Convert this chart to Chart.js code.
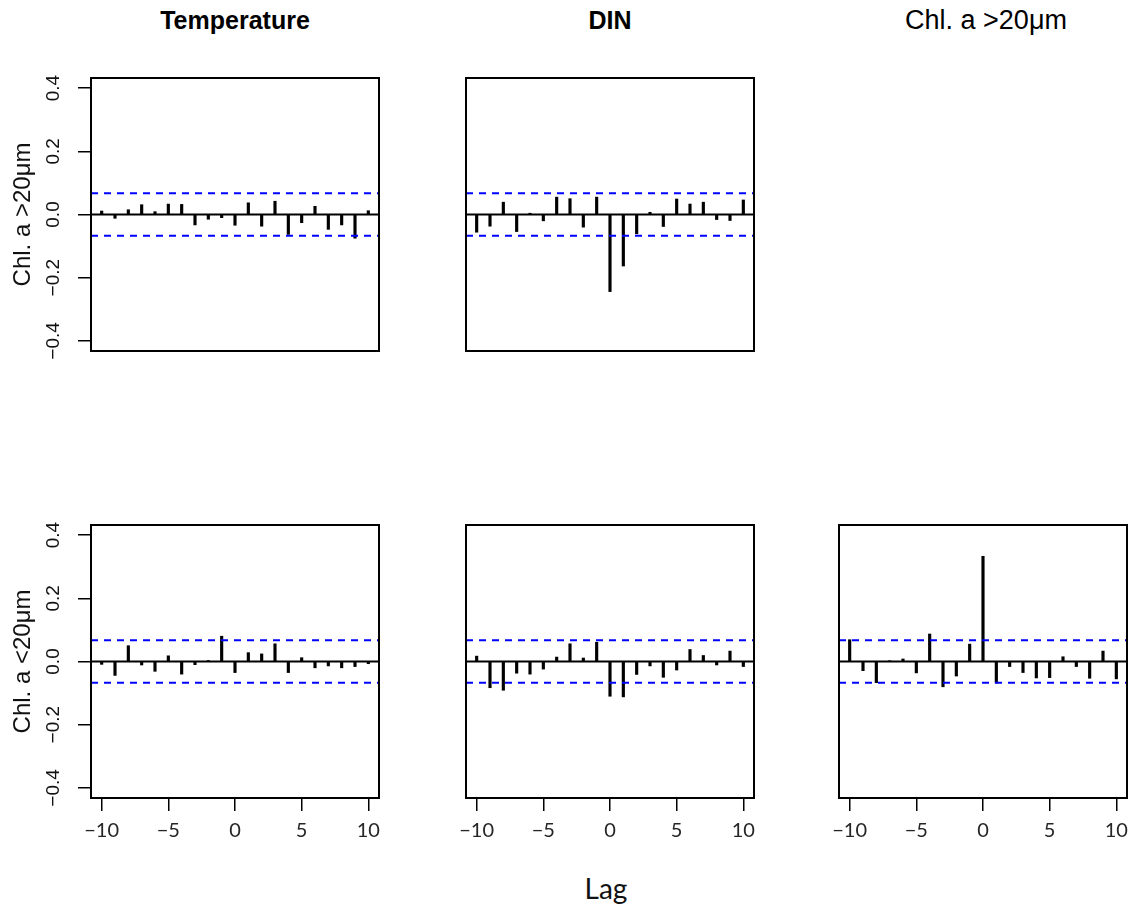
<!DOCTYPE html>
<html>
<head>
<meta charset="utf-8">
<script src="https://cdn.jsdelivr.net/npm/chart.js@4/dist/chart.umd.min.js"></script>
<style>
  body { margin: 0; background: #fff; width: 1140px; height: 911px; position: relative; overflow: hidden; }
  canvas { position: absolute; }
  .colTitle { position: absolute; width: 300px; text-align: center; line-height: 1; font-family: "Liberation Sans", Arial, sans-serif; color: #000; white-space: nowrap; }
  #lagLabel { position: absolute; left: 506px; top: 874px; width: 200px; text-align: center; line-height: 1; font-family: Lato, sans-serif; font-size: 28px; color: #111; }
</style>
</head>
<body>
<div class="colTitle" style="left:85px; top:8px; font-size:25px; font-weight:bold;">Temperature</div>
<div class="colTitle" style="left:460px; top:8px; font-size:25px; font-weight:bold;">DIN</div>
<div class="colTitle" style="left:836px; top:7px; font-size:27px;">Chl. a &gt;20μm</div>
<div id="lagLabel">Lag</div>

<script>
// lags and axis ticks
const lags = [-10, -9, -8, -7, -6, -5, -4, -3, -2, -1, 0, 1, 2, 3, 4, 5, 6, 7, 8, 9, 10];
const xTicks = [-10, -5, 0, 5, 10];
const xTickLabels = ["\u221210", "\u22125", "0", "5", "10"];
const yTicks = [-0.4, -0.2, 0, 0.2, 0.4];
const yTickLabels = ["\u22120.4", "\u22120.2", "0.0", "0.2", "0.4"];
const ciBound = 0.067;

// cross-correlations
const largeVsTemp = [0.011, -0.012, 0.015, 0.031, 0.009, 0.033, 0.032, -0.033, -0.015, -0.010, -0.034, 0.037, -0.037, 0.042, -0.063, -0.026, 0.026, -0.047, -0.033, -0.075, 0.012];
const largeVsDin = [-0.056, -0.037, 0.039, -0.054, 0.004, -0.020, 0.055, 0.050, -0.040, 0.055, -0.244, -0.163, -0.061, 0.007, -0.038, 0.049, 0.033, 0.039, -0.016, -0.019, 0.046];
const smallVsTemp = [-0.009, -0.044, 0.050, -0.011, -0.031, 0.018, -0.040, -0.010, 0.003, 0.080, -0.035, 0.028, 0.024, 0.056, -0.035, 0.012, -0.020, -0.014, -0.020, -0.016, -0.007];
const smallVsDin = [0.017, -0.083, -0.091, -0.037, -0.040, -0.024, 0.014, 0.056, 0.011, 0.061, -0.110, -0.112, -0.041, -0.014, -0.050, -0.027, 0.038, 0.019, -0.011, 0.033, -0.016];
const smallVsLarge = [0.069, -0.029, -0.067, 0.001, 0.008, -0.036, 0.087, -0.080, -0.046, 0.055, 0.333, -0.068, -0.016, -0.035, -0.052, -0.051, 0.015, -0.016, -0.053, 0.033, -0.055];

const xMin = -10.8, xMax = 10.8;
const yMin = -0.432, yMax = 0.432;

const panels = [
  { values: largeVsTemp, left: 0, top: 68, yTitle: "Chl. a >20\u03bcm", showY: true, showX: false },
  { values: largeVsDin, left: 375, top: 68, yTitle: null, showY: false, showX: false },
  { values: smallVsTemp, left: 0, top: 515, yTitle: "Chl. a <20\u03bcm", showY: true, showX: true },
  { values: smallVsDin, left: 375, top: 515, yTitle: null, showY: false, showX: true },
  { values: smallVsLarge, left: 748, top: 515, yTitle: null, showY: false, showX: true },
];

function hLine(y, color, width, dash, order) {
  return {
    type: "line",
    data: [{ x: xMin, y: y }, { x: xMax, y: y }],
    borderColor: color,
    borderWidth: width,
    borderDash: dash,
    pointRadius: 0,
    order: order,
  };
}

function makePanel(p) {
  const canvas = document.createElement("canvas");
  canvas.width = 389;
  canvas.height = 353;
  canvas.style.left = p.left + "px";
  canvas.style.top = p.top + "px";
  document.body.appendChild(canvas);

  // box around the plot, R style rotated y labels and y title
  const rStyle = {
    id: "rStyle",
    afterDraw(chart) {
      const c = chart.ctx;
      const a = chart.chartArea;
      c.save();
      c.strokeStyle = "#000";
      c.lineWidth = 2;
      c.strokeRect(a.left, a.top, a.right - a.left, a.bottom - a.top);
      if (p.showY) {
        c.fillStyle = "#111";
        c.textAlign = "center";
        c.textBaseline = "middle";
        c.font = "19px 'Liberation Sans', Arial, sans-serif";
        for (let i = 0; i < yTicks.length; i++) {
          const y = chart.scales.y.getPixelForValue(yTicks[i]);
          c.save();
          c.translate(a.left - 37, y);
          c.rotate(-Math.PI / 2);
          c.fillText(yTickLabels[i], 0, 0);
          c.restore();
        }
      }
      if (p.yTitle) {
        c.fillStyle = "#111";
        c.textAlign = "center";
        c.textBaseline = "middle";
        c.font = "24px 'Liberation Sans', Arial, sans-serif";
        c.translate(a.left - 68, (a.top + a.bottom) / 2);
        c.rotate(-Math.PI / 2);
        c.fillText(p.yTitle, 0, 0);
      }
      c.restore();
    },
  };

  new Chart(canvas, {
    type: "bar",
    data: {
      datasets: [
        hLine(ciBound, "#0000ff", 2, [7, 6], 1),
        hLine(-ciBound, "#0000ff", 2, [7, 6], 1),
        hLine(0, "#000", 2, [], 2),
        {
          type: "bar",
          data: lags.map((l, i) => ({ x: l, y: p.values[i] })),
          backgroundColor: "#000",
          barThickness: 2.5,
          order: 3,
        },
      ],
    },
    options: {
      responsive: false,
      animation: false,
      events: [],
      layout: { padding: { top: 10, right: 10, left: 0, bottom: 0 } },
      plugins: { legend: { display: false }, tooltip: { enabled: false } },
      scales: {
        x: {
          type: "linear",
          min: xMin,
          max: xMax,
          offset: false,
          afterBuildTicks: (axis) => { axis.ticks = xTicks.map((v) => ({ value: v })); },
          afterFit: (axis) => { axis.height = 70; },
          border: { display: false },
          grid: { offset: false, drawOnChartArea: false, drawTicks: p.showX, tickLength: 13, color: "#000", lineWidth: 1.5 },
          ticks: {
            display: p.showX,
            maxRotation: 0,
            padding: 8,
            color: "#262626",
            font: { family: "Lato", size: 20 },
            callback: (v, i) => xTickLabels[i],
          },
        },
        y: {
          type: "linear",
          min: yMin,
          max: yMax,
          afterBuildTicks: (axis) => { axis.ticks = yTicks.map((v) => ({ value: v })); },
          afterFit: (axis) => { axis.width = 91; },
          border: { display: false },
          grid: { drawOnChartArea: false, drawTicks: p.showY, tickLength: 13, color: "#000", lineWidth: 1.5 },
          ticks: { display: false },
        },
      },
    },
    plugins: [rStyle],
  });
}

panels.forEach(makePanel);
</script>
</body>
</html>
